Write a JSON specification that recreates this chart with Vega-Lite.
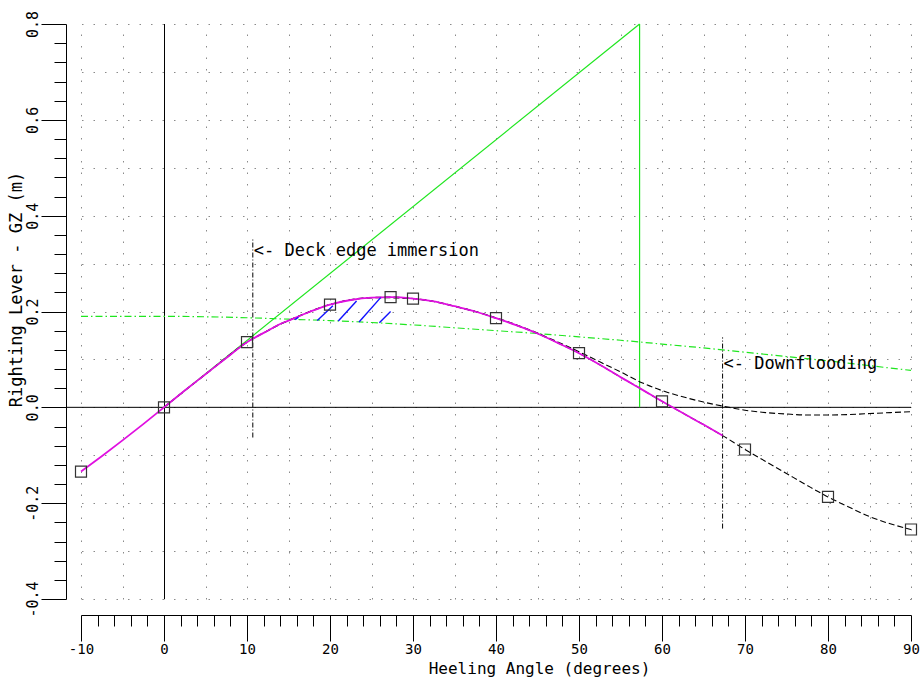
{
  "$schema": "https://vega.github.io/schema/vega-lite/v6.json",
  "width": 830,
  "height": 575,
  "autosize": "none",
  "padding": {"left": 81, "top": 24, "right": 9, "bottom": 78},
  "background": "white",
  "config": {
    "view": {"stroke": null},
    "font": "DejaVu Sans Mono",
    "axis": {
      "domainColor": "black",
      "domainWidth": 1,
      "tickColor": "black",
      "tickWidth": 1,
      "labelColor": "black",
      "titleColor": "black",
      "labelFont": "DejaVu Sans Mono",
      "titleFont": "DejaVu Sans Mono",
      "labelFontSize": 15,
      "titleFontSize": 17,
      "titleFontWeight": "normal",
      "labelFlush": false,
      "labelOverlap": false,
      "tickCount": 500
    }
  },
  "datasets": {
    "zeroLine": [{"deg0": -11.8, "deg1": 90, "gz": 0}],
    "zeroAxis": [{"deg": 0, "gz0": -0.4, "gz1": 0.8}],
    "gmLine": [
      {"deg0": 0, "gz0": 0, "deg1": 57.3, "gz1": 0.8},
      {"deg0": 57.3, "gz0": 0.8, "deg1": 57.3, "gz1": 0}
    ],
    "heelingLever": [
      {"deg": -10, "gz": 0.190}, {"deg": -5, "gz": 0.190}, {"deg": 0, "gz": 0.190},
      {"deg": 5, "gz": 0.189}, {"deg": 10, "gz": 0.187}, {"deg": 15, "gz": 0.184},
      {"deg": 20, "gz": 0.181}, {"deg": 25, "gz": 0.177}, {"deg": 30, "gz": 0.172},
      {"deg": 35, "gz": 0.166}, {"deg": 40, "gz": 0.160}, {"deg": 45, "gz": 0.154},
      {"deg": 50, "gz": 0.147}, {"deg": 55, "gz": 0.140}, {"deg": 60, "gz": 0.132},
      {"deg": 65, "gz": 0.124}, {"deg": 70, "gz": 0.115}, {"deg": 75, "gz": 0.106},
      {"deg": 80, "gz": 0.097}, {"deg": 85, "gz": 0.087}, {"deg": 90, "gz": 0.077}
    ],
    "markers": [
      {"deg": 10.7, "gz0": -0.063, "gz1": 0.353, "label": "<- Deck edge immersion", "labelGz": 0.326},
      {"deg": 67.3, "gz0": -0.253, "gz1": 0.146, "label": "<- Downflooding", "labelGz": 0.091}
    ],
    "gz": [
      {"deg": -10, "gz": -0.134}, {"deg": -7.5, "gz": -0.102}, {"deg": -5, "gz": -0.069},
      {"deg": -2.5, "gz": -0.035}, {"deg": 0, "gz": 0}, {"deg": 2.5, "gz": 0.035},
      {"deg": 5, "gz": 0.069}, {"deg": 7.5, "gz": 0.103}, {"deg": 10, "gz": 0.136},
      {"deg": 10.7, "gz": 0.143}, {"deg": 12.5, "gz": 0.160}, {"deg": 14, "gz": 0.174},
      {"deg": 15, "gz": 0.181}, {"deg": 17.5, "gz": 0.199}, {"deg": 20, "gz": 0.2145},
      {"deg": 22.5, "gz": 0.224}, {"deg": 25, "gz": 0.229}, {"deg": 27.3, "gz": 0.230},
      {"deg": 30, "gz": 0.227}, {"deg": 32.5, "gz": 0.221}, {"deg": 35, "gz": 0.211},
      {"deg": 37.5, "gz": 0.200}, {"deg": 40, "gz": 0.186}, {"deg": 42.5, "gz": 0.171},
      {"deg": 45, "gz": 0.154}, {"deg": 47.5, "gz": 0.134}, {"deg": 50, "gz": 0.113},
      {"deg": 52.5, "gz": 0.089}, {"deg": 55, "gz": 0.063}, {"deg": 57.5, "gz": 0.038},
      {"deg": 60, "gz": 0.0125}, {"deg": 62.5, "gz": -0.012}, {"deg": 65, "gz": -0.036},
      {"deg": 67.3, "gz": -0.059}, {"deg": 70, "gz": -0.088}, {"deg": 72.5, "gz": -0.113},
      {"deg": 75, "gz": -0.138}, {"deg": 77.5, "gz": -0.163}, {"deg": 80, "gz": -0.187},
      {"deg": 82.5, "gz": -0.208}, {"deg": 85, "gz": -0.228}, {"deg": 87.5, "gz": -0.243},
      {"deg": 90, "gz": -0.255}
    ],
    "gzAlt": [
      {"deg": 0, "gz": 0}, {"deg": 5, "gz": 0.069}, {"deg": 10, "gz": 0.136},
      {"deg": 12.5, "gz": 0.160}, {"deg": 15, "gz": 0.181}, {"deg": 20, "gz": 0.2145},
      {"deg": 25, "gz": 0.229}, {"deg": 30, "gz": 0.227}, {"deg": 35, "gz": 0.211},
      {"deg": 40, "gz": 0.187}, {"deg": 42.5, "gz": 0.172}, {"deg": 45, "gz": 0.155},
      {"deg": 47.5, "gz": 0.136}, {"deg": 50, "gz": 0.116}, {"deg": 52.5, "gz": 0.095},
      {"deg": 55, "gz": 0.074}, {"deg": 57.5, "gz": 0.052}, {"deg": 60, "gz": 0.035},
      {"deg": 62.5, "gz": 0.022}, {"deg": 65, "gz": 0.011}, {"deg": 67.5, "gz": 0.002},
      {"deg": 70, "gz": -0.006}, {"deg": 72.5, "gz": -0.011}, {"deg": 75, "gz": -0.014},
      {"deg": 77.5, "gz": -0.016}, {"deg": 80, "gz": -0.016}, {"deg": 82.5, "gz": -0.015},
      {"deg": 85, "gz": -0.013}, {"deg": 87.5, "gz": -0.011}, {"deg": 90, "gz": -0.009}
    ],
    "stations": [
      {"deg": -10, "gz": -0.134}, {"deg": 0, "gz": 0}, {"deg": 10, "gz": 0.136},
      {"deg": 20, "gz": 0.2145}, {"deg": 27.3, "gz": 0.230}, {"deg": 30, "gz": 0.227},
      {"deg": 40, "gz": 0.186}, {"deg": 50, "gz": 0.113}, {"deg": 60, "gz": 0.0125},
      {"deg": 70, "gz": -0.088}, {"deg": 80, "gz": -0.187}, {"deg": 90, "gz": -0.255}
    ],
    "reserveHatch": [
      {"deg0": 15.8, "gz0": 0.183, "deg1": 16.2, "gz1": 0.188},
      {"deg0": 18.47, "gz0": 0.181, "deg1": 20.35, "gz1": 0.212},
      {"deg0": 21.0, "gz0": 0.180, "deg1": 23.2, "gz1": 0.222},
      {"deg0": 23.5, "gz0": 0.178, "deg1": 26.1, "gz1": 0.229},
      {"deg0": 25.95, "gz0": 0.1765, "deg1": 27.3, "gz1": 0.200}
    ]
  },
  "layer": [
    {
      "data": {"name": "zeroLine"},
      "mark": {"type": "rule", "color": "black", "strokeWidth": 1},
      "encoding": {
        "x": {
          "field": "deg0", "type": "quantitative",
          "scale": {"domain": [-10, 90], "nice": false, "zero": false},
          "axis": {
            "orient": "top", "grid": true, "domain": false, "ticks": false, "labels": false, "title": null,
            "tickCount": 500,
            "values": [-10, -5, 0, 5, 10, 15, 20, 25, 30, 35, 40, 45, 50, 55, 60, 65, 70, 75, 80, 85, 90],
            "gridColor": "#8a8a8a", "gridDash": [1.5, 10], "gridWidth": 1, "gridOpacity": 1
          }
        },
        "x2": {"field": "deg1"},
        "y": {
          "field": "gz", "type": "quantitative",
          "scale": {"domain": [-0.4, 0.8], "nice": false, "zero": false},
          "axis": {
            "orient": "right", "grid": true, "domain": false, "ticks": false, "labels": false, "title": null,
            "tickCount": 500,
            "values": [-0.4, -0.3, -0.2, -0.1, 0, 0.1, 0.2, 0.3, 0.4, 0.5, 0.6, 0.7, 0.8],
            "gridColor": "#8a8a8a", "gridDash": [1.5, 10], "gridWidth": 1, "gridOpacity": 1
          }
        }
      }
    },
    {
      "layer": [
        {
          "data": {"name": "zeroAxis"},
          "mark": {"type": "rule", "color": "black", "strokeWidth": 1, "xOffset": 0.5},
          "encoding": {
            "x": {
              "field": "deg", "type": "quantitative",
              "scale": {"domain": [-10, 90], "nice": false, "zero": false},
              "axis": {
                "orient": "bottom", "offset": 16, "grid": false, "tickCount": 500,
                "values": [-10, -8, -6, -4, -2, 0, 2, 4, 6, 8, 10, 12, 14, 16, 18, 20, 22, 24, 26, 28, 30, 32, 34, 36, 38, 40, 42, 44, 46, 48, 50, 52, 54, 56, 58, 60, 62, 64, 66, 68, 70, 72, 74, 76, 78, 80, 82, 84, 86, 88, 90],
                "tickSize": {"condition": {"test": "datum.value % 10 === 0", "value": 26}, "value": 11},
                "labelExpr": "datum.value % 10 === 0 ? replace(format(datum.value, 'd'), '\u2212', '-') : ''",
                "labelFontSize": 14,
                "labelPadding": 1,
                "title": "Heeling Angle (degrees)",
                "titleFontSize": 16,
                "titleX": 458, "titleY": 53,
                "titleAlign": "center", "titleBaseline": "middle"
              }
            },
            "y": {
              "field": "gz0", "type": "quantitative",
              "scale": {"domain": [-0.4, 0.8], "nice": false, "zero": false},
              "axis": {
                "orient": "left", "offset": 15, "grid": false, "tickCount": 500,
                "values": [-0.4, -0.36, -0.32, -0.28, -0.24, -0.2, -0.16, -0.12, -0.08, -0.04, 0, 0.04, 0.08, 0.12, 0.16, 0.2, 0.24, 0.28, 0.32, 0.36, 0.4, 0.44, 0.48, 0.52, 0.56, 0.6, 0.64, 0.68, 0.72, 0.76, 0.8],
                "tickSize": {"condition": {"test": "abs(datum.value * 5 - round(datum.value * 5)) < 0.001", "value": 25}, "value": 12},
                "labelExpr": "abs(datum.value * 5 - round(datum.value * 5)) < 0.001 ? replace(format(datum.value, '.1f'), '\u2212', '-') : ''",
                "labelAngle": -90, "labelAlign": "center", "labelBaseline": "bottom", "labelPadding": 1,
                "title": "Righting Lever - GZ (m)",
                "titleX": -50, "titleY": 265,
                "titleAngle": -90, "titleAlign": "center", "titleBaseline": "middle"
              }
            },
            "y2": {"field": "gz1"}
          }
        },
        {
          "data": {"name": "gmLine"},
          "mark": {"type": "rule", "color": "#1fe61f", "strokeWidth": 1.2},
          "encoding": {
            "x": {"field": "deg0", "type": "quantitative"},
            "y": {"field": "gz0", "type": "quantitative"},
            "x2": {"field": "deg1"},
            "y2": {"field": "gz1"}
          }
        },
        {
          "data": {"name": "heelingLever"},
          "mark": {"type": "line", "color": "#1fe61f", "strokeWidth": 1.2, "strokeDash": [7, 3, 1.5, 3], "interpolate": "monotone"},
          "encoding": {
            "x": {"field": "deg", "type": "quantitative"},
            "y": {"field": "gz", "type": "quantitative"}
          }
        },
        {
          "data": {"name": "markers"},
          "mark": {"type": "rule", "color": "black", "strokeWidth": 1, "strokeDash": [5, 2, 1, 2]},
          "encoding": {
            "x": {"field": "deg", "type": "quantitative"},
            "y": {"field": "gz0", "type": "quantitative"},
            "y2": {"field": "gz1"}
          }
        },
        {
          "data": {"name": "gzAlt"},
          "mark": {"type": "line", "color": "black", "strokeWidth": 1.1, "strokeDash": [6, 3], "interpolate": "monotone"},
          "encoding": {
            "x": {"field": "deg", "type": "quantitative"},
            "y": {"field": "gz", "type": "quantitative"}
          }
        },
        {
          "data": {"name": "gz"},
          "transform": [{"filter": "datum.deg >= 0"}],
          "mark": {"type": "line", "color": "black", "strokeWidth": 1.1, "strokeDash": [6, 3], "interpolate": "monotone"},
          "encoding": {
            "x": {"field": "deg", "type": "quantitative"},
            "y": {"field": "gz", "type": "quantitative"}
          }
        },
        {
          "data": {"name": "gz"},
          "transform": [{"filter": "datum.deg <= 67.3"}],
          "mark": {"type": "line", "color": "#e010e0", "strokeWidth": 1.8, "interpolate": "monotone"},
          "encoding": {
            "x": {"field": "deg", "type": "quantitative"},
            "y": {"field": "gz", "type": "quantitative"}
          }
        },
        {
          "data": {"name": "reserveHatch"},
          "mark": {"type": "rule", "color": "#1010ff", "strokeWidth": 1.4},
          "encoding": {
            "x": {"field": "deg0", "type": "quantitative"},
            "y": {"field": "gz0", "type": "quantitative"},
            "x2": {"field": "deg1"},
            "y2": {"field": "gz1"}
          }
        },
        {
          "data": {"name": "stations"},
          "mark": {"type": "point", "shape": "square", "size": 121, "filled": false, "stroke": "#333333", "strokeWidth": 1.2, "opacity": 1},
          "encoding": {
            "x": {"field": "deg", "type": "quantitative"},
            "y": {"field": "gz", "type": "quantitative"}
          }
        },
        {
          "data": {"name": "markers"},
          "mark": {"type": "text", "align": "left", "baseline": "middle", "dx": 1, "font": "DejaVu Sans Mono", "fontSize": 17, "color": "black"},
          "encoding": {
            "x": {"field": "deg", "type": "quantitative"},
            "y": {"field": "labelGz", "type": "quantitative"},
            "text": {"field": "label"}
          }
        }
      ]
    }
  ],
  "resolve": {"axis": {"x": "independent", "y": "independent"}}
}
